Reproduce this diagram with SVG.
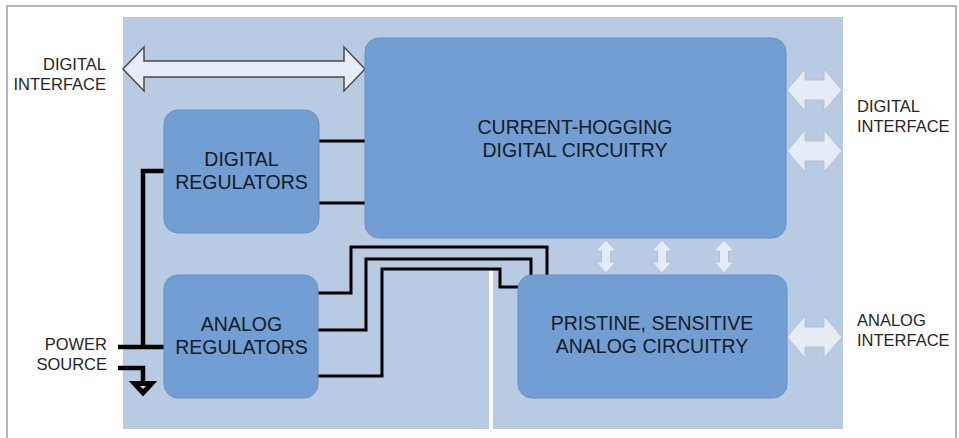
<svg xmlns="http://www.w3.org/2000/svg" width="959" height="438" viewBox="0 0 959 438">
<style>
.frame{fill:none;stroke:#a0a0a0;stroke-width:1.5}
.panel{fill:#b9cae3}
.block{fill:#729ed3;stroke:#6791c8;stroke-width:1}
.bt{font-family:"Liberation Sans",Arial,sans-serif;font-size:19.5px;fill:#141c26;text-anchor:middle}
.lbl{font-family:"Liberation Sans",Arial,sans-serif;font-size:16.5px;fill:#262626}
.wire{fill:none;stroke:#000;stroke-width:3;stroke-linejoin:miter;stroke-linecap:butt}
.pwr{fill:none;stroke:#000;stroke-width:4.5;stroke-linejoin:miter;stroke-linecap:butt}
.big{fill:#e6edf8;stroke:#4a4a4a;stroke-width:1.5;stroke-linejoin:miter}
.soft{fill:#e6ecf6;stroke:#b4c0d2;stroke-width:1}
</style>
<defs>
<path id="harrow" d="M0,0 L18,-21 L18,-10 L37,-10 L37,-21 L55,0 L37,21 L37,10 L18,10 L18,21 Z"/>
<path id="varrow" d="M0,0 L10,11 L4.5,11 L4.5,22 L10,22 L0,33 L-10,22 L-4.5,22 L-4.5,11 L-10,11 Z"/>
</defs>
<rect width="959" height="438" fill="#ffffff"/>
<path class="frame" d="M7,438 V6 H956 V438"/>
<rect class="panel" x="123" y="17" width="720" height="412"/>
<rect x="489" y="271" width="4" height="167" fill="#ffffff"/>

<g id="connectors">
<path class="big" d="M123,69 L144,47 L144,61 L344,61 L344,47 L365,69 L344,91 L344,77 L144,77 L144,91 Z"/>
<use href="#harrow" class="soft" x="787" y="90"/>
<use href="#harrow" class="soft" x="787" y="151"/>
<use href="#harrow" class="soft" x="787" y="337"/>
<use href="#varrow" class="soft" x="606" y="240"/>
<use href="#varrow" class="soft" x="662" y="240"/>
<use href="#varrow" class="soft" x="724" y="240"/>
<path class="wire" d="M319,141 H365"/>
<path class="wire" d="M319,203 H365"/>
<path class="wire" d="M318,293 H351 V247 H547 V275"/>
<path class="wire" d="M318,330 H366 V259 H531 V275"/>
<path class="wire" d="M318,376 H382 V269 H500 V287 H518"/>
<path class="pwr" d="M118,347 H165"/>
<path class="pwr" d="M143,349 V171 H165"/>
<path class="pwr" d="M118,368 H143 V382"/>
<polygon points="131,382 155,382 143,395" fill="#000" stroke="#000" stroke-width="2" stroke-linejoin="miter"/>
<polygon points="140,386 146,386 143,389" fill="#d8dfea"/>
</g>

<g id="current-hogging">
<rect class="block" x="365" y="38" width="421" height="200" rx="14"/>
<text class="bt" x="575" y="134">CURRENT-HOGGING</text>
<text class="bt" x="575" y="157">DIGITAL CIRCUITRY</text>
</g>
<g id="digital-regulators">
<rect class="block" x="164" y="110" width="155" height="123" rx="14"/>
<text class="bt" x="241.5" y="166">DIGITAL</text>
<text class="bt" x="241.5" y="189">REGULATORS</text>
</g>
<g id="analog-regulators">
<rect class="block" x="164" y="275" width="154" height="123" rx="14"/>
<text class="bt" x="241.5" y="331">ANALOG</text>
<text class="bt" x="241.5" y="354">REGULATORS</text>
</g>
<g id="pristine-analog">
<rect class="block" x="518" y="275" width="269" height="123" rx="14"/>
<text class="bt" x="652" y="330">PRISTINE, SENSITIVE</text>
<text class="bt" x="652" y="353">ANALOG CIRCUITRY</text>
</g>

<g id="labels">
<text class="lbl" x="106" y="70" text-anchor="end">DIGITAL</text>
<text class="lbl" x="106" y="90" text-anchor="end">INTERFACE</text>
<text class="lbl" x="857" y="112">DIGITAL</text>
<text class="lbl" x="857" y="132">INTERFACE</text>
<text class="lbl" x="857" y="326">ANALOG</text>
<text class="lbl" x="857" y="346">INTERFACE</text>
<text class="lbl" x="107" y="350" text-anchor="end">POWER</text>
<text class="lbl" x="107" y="370" text-anchor="end">SOURCE</text>
</g>
</svg>
